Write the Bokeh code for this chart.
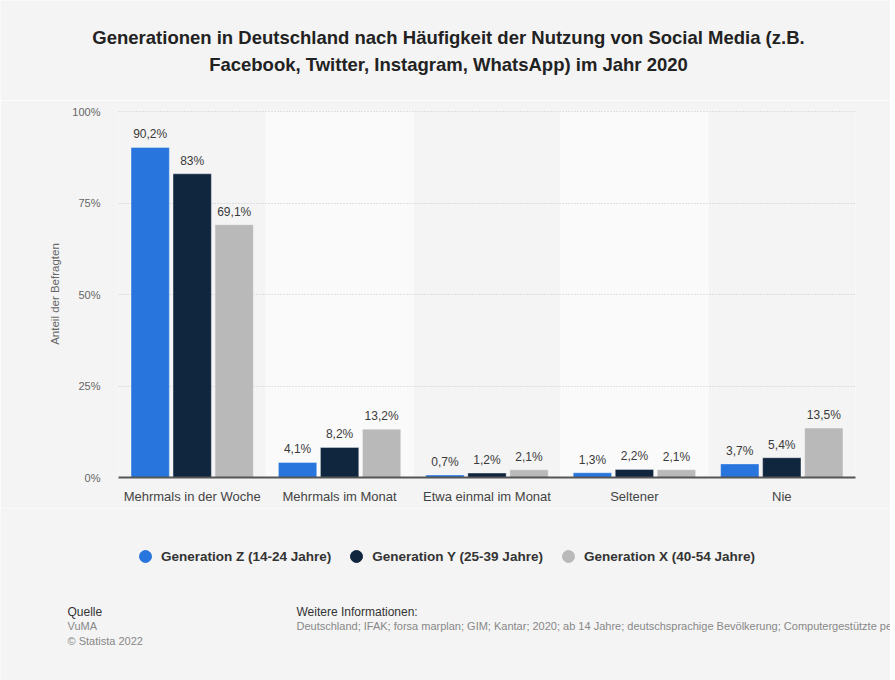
from bokeh.plotting import figure
from bokeh.models import (FactorRange, Range1d, FixedTicker, PrintfTickFormatter, Label,
                          Legend, LegendItem, ColumnDataSource)
from bokeh.transform import dodge
from bokeh.core.properties import value
from bokeh.embed import file_html
from bokeh.resources import INLINE

# ---------------- data ----------------
categories = ["Mehrmals in der Woche", "Mehrmals im Monat", "Etwa einmal im Monat",
              "Seltener", "Nie"]
gen_z = [90.2, 4.1, 0.7, 1.3, 3.7]
gen_y = [83.0, 8.2, 1.2, 2.2, 5.4]
gen_x = [69.1, 13.2, 2.1, 2.1, 13.5]
series_names = ["Generation Z (14-24 Jahre)", "Generation Y (25-39 Jahre)",
                "Generation X (40-54 Jahre)"]
y_ticks = [0, 25, 50, 75, 100]
title_lines = ["Generationen in Deutschland nach Häufigkeit der Nutzung von Social Media (z.B.",
               "Facebook, Twitter, Instagram, WhatsApp) im Jahr 2020"]
y_label = "Anteil der Befragten"
source_title = "Quelle"
source_lines = ["VuMA", "© Statista 2022"]
info_title = "Weitere Informationen:"
info_text = ("Deutschland; IFAK; forsa marplan; GIM; Kantar; 2020; ab 14 Jahre; "
             "deutschsprachige Bevölkerung; Computergestützte persönliche Interviews (CAPI)")

# ---------------- style ----------------
colors = ["#2876dd", "#10263f", "#b9b9b9"]
offsets = [-0.285, 0.0, 0.285]
bar_w = 0.26
BG = "#f4f4f4"
BAND = "#fafafa"
FONT = "Liberation Sans"

W = 890
HEAD_H = 100          # header strip (title)
TOP = 10              # space above the frame inside the chart figure
FRAME_H = 367         # plot frame height
BOT = 31              # x-axis panel
FOOT_H = 172          # legend + source strip
FL, FR = 118, 855     # frame left/right in page pixels


def fmt(v):
    s = ("%.1f" % v).replace(".", ",")
    if s.endswith(",0"):
        s = s[:-2]
    return s + "%"


def strip(height):
    f = figure(width=W, height=height, output_backend="svg", toolbar_location=None,
               x_range=Range1d(0, W), y_range=Range1d(height, 0),
               x_axis_location=None, y_axis_location=None,
               min_border=0, background_fill_color=BG, border_fill_color=BG,
               outline_line_color=None, title=None)
    f.xgrid.visible = False
    f.ygrid.visible = False
    return f


def lab(f, text, x, y, size, color, style="normal", align="left"):
    f.add_layout(Label(x=x, y=y, text=text, text_font=FONT, text_font_size=size,
                       text_color=color, text_font_style=style, text_align=align,
                       text_baseline="middle"))


# ---------------- header ----------------
head = strip(HEAD_H)
lab(head, title_lines[0], 448, 37, "18.5px", "#222222", "bold", "center")
lab(head, title_lines[1], 448, 64, "18.5px", "#222222", "bold", "center")

# ---------------- main chart ----------------
data = {"cat": categories}
series = [gen_z, gen_y, gen_x]
for k, vals in enumerate(series):
    data["v%d" % k] = vals
    data["l%d" % k] = [fmt(v) for v in vals]
src = ColumnDataSource(data)

p = figure(width=W, height=TOP + FRAME_H + BOT, output_backend="svg", toolbar_location=None,
           x_range=FactorRange(*categories), y_range=Range1d(0, 100.3), title=None,
           min_border_left=FL, min_border_right=W - FR, min_border_top=TOP,
           min_border_bottom=BOT, background_fill_color=BG, border_fill_color=BG,
           outline_line_color=None)

band_src = ColumnDataSource({"cat": [categories[1], categories[3]], "top": [100, 100]})
p.vbar(x="cat", top="top", width=1.0, bottom=0, source=band_src, color=BAND,
       level="underlay")

for k in range(3):
    xk = dodge("cat", offsets[k], range=p.x_range)
    p.vbar(x=xk, top="v%d" % k, width=bar_w, source=src, fill_color=colors[k],
           line_color="white", line_alpha=0.35, line_width=1)
    p.text(x=xk, y="v%d" % k, text="l%d" % k, source=src, y_offset=-6,
           text_align="center", text_baseline="bottom", text_font=value(FONT),
           text_font_size="12px", text_color="#3a3a3a")

p.xaxis.axis_line_color = "#555555"
p.xaxis.axis_line_width = 2
p.xaxis.major_tick_line_color = None
p.xaxis.minor_tick_line_color = None
p.xaxis.major_tick_out = 0
p.xaxis.major_tick_in = 0
p.xaxis.major_label_text_font = FONT
p.xaxis.major_label_text_font_size = "13px"
p.xaxis.major_label_text_color = "#444444"
p.xaxis.major_label_standoff = 11

p.yaxis.ticker = FixedTicker(ticks=y_ticks)
p.yaxis.formatter = PrintfTickFormatter(format="%d%%")
p.yaxis.axis_line_color = None
p.yaxis.major_tick_line_color = None
p.yaxis.minor_tick_line_color = None
p.yaxis.major_tick_out = 0
p.yaxis.major_tick_in = 0
p.yaxis.major_label_text_font = FONT
p.yaxis.major_label_text_font_size = "11px"
p.yaxis.major_label_text_color = "#666666"
p.yaxis.major_label_standoff = 18
p.yaxis.axis_label = y_label
p.yaxis.axis_label_text_font = FONT
p.yaxis.axis_label_text_font_size = "11.5px"
p.yaxis.axis_label_text_font_style = "normal"
p.yaxis.axis_label_text_color = "#666666"
p.yaxis.axis_label_standoff = 8

p.xgrid.grid_line_color = None
p.ygrid.ticker = FixedTicker(ticks=[25, 50, 75, 100])
p.ygrid.grid_line_color = "#c8c8c8"
p.ygrid.grid_line_dash = "1 2"
p.ygrid.grid_line_width = 1

# ---------------- footer: legend + sources ----------------
foot = strip(FOOT_H)
# placeholder renderers (one point far outside the visible strip) that only feed the legend
dummies = [foot.scatter(x=[-1000], y=[-1000], marker="circle", color=c) for c in colors]
legend = Legend(items=[LegendItem(label=n, renderers=[r]) for n, r in zip(series_names, dummies)],
                orientation="horizontal", location=(130, 109), padding=0, margin=0,
                glyph_width=30, glyph_height=30, label_standoff=1, spacing=10,
                background_fill_alpha=0, border_line_color=None,
                label_text_font=FONT, label_text_font_style="bold",
                label_text_font_size="13.5px", label_text_color="#333333")
foot.add_layout(legend, "center")

y0 = HEAD_H + TOP + FRAME_H + BOT
lab(foot, source_title, 67, 611 - y0, "12px", "#333333")
lab(foot, source_lines[0], 67, 625 - y0, "11px", "#888888")
lab(foot, source_lines[1], 67, 640 - y0, "11px", "#888888")
lab(foot, info_title, 296, 611 - y0, "12px", "#333333")
lab(foot, info_text, 296, 625 - y0, "11px", "#888888")

open("out.html", "w").write(file_html([head, p, foot], INLINE))
